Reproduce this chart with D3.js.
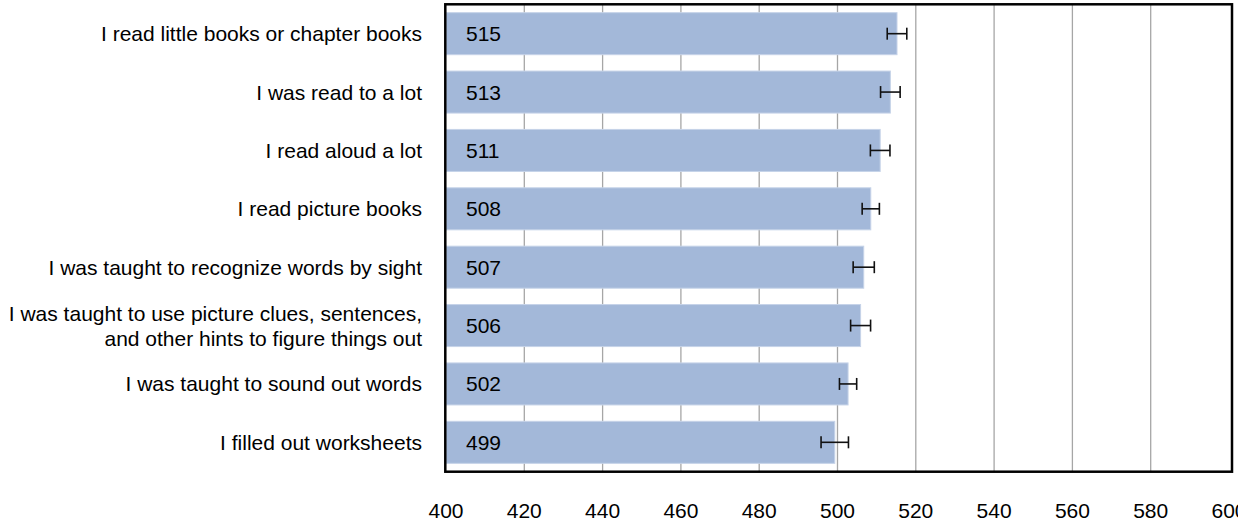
<!DOCTYPE html>
<html>
<head>
<meta charset="utf-8">
<script src="https://d3js.org/d3.v7.min.js"></script>
<style>
    body { margin: 0; background: #fff; }
    text { font-family: "Liberation Sans", Arial, sans-serif; fill: #000; }
</style>
</head>
<body>
<svg width="1238" height="525"></svg>
<script>
// chart data
var categories = [
    "I read little books or chapter books",
    "I was read to a lot",
    "I read aloud a lot",
    "I read picture books",
    "I was taught to recognize words by sight",
    "I was taught to use picture clues, sentences,|and other hints to figure things out",
    "I was taught to sound out words",
    "I filled out worksheets"
];
var scores = [515.2, 513.5, 510.9, 508.5, 506.7, 505.9, 502.7, 499.3];
var scoreLabels = ["515", "513", "511", "508", "507", "506", "502", "499"];
var errors = [2.5, 2.5, 2.5, 2.2, 2.7, 2.55, 2.2, 3.5];
var xTicks = [400, 420, 440, 460, 480, 500, 520, 540, 560, 580, 600];

var svg = d3.select("svg"),
    margin = { top: 4.5, left: 446, right: 9, bottom: 53.5 },
    width = 1229 - margin.left,
    height = 471.5 - margin.top;

var g = svg.append("g").attr("transform", "translate(" + margin.left + "," + margin.top + ")");

var x = d3.scaleLinear().domain([400, 600]).range([0, width]);
var y = d3.scaleBand().domain(d3.range(categories.length)).range([0, height]).paddingInner(0.28).paddingOuter(0.14);

// gridlines
g.selectAll(".grid")
    .data(xTicks.slice(1, -1))
    .enter().append("line")
    .attr("x1", function (d) { return x(d); })
    .attr("x2", function (d) { return x(d); })
    .attr("y1", 0)
    .attr("y2", height)
    .attr("stroke", "#a6a6a6")
    .attr("stroke-width", 1.3);

// bars
g.selectAll(".bar")
    .data(scores)
    .enter().append("rect")
    .attr("x", 0)
    .attr("y", function (d, i) { return y(i); })
    .attr("width", function (d) { return x(d); })
    .attr("height", y.bandwidth())
    .attr("fill", "#a3b8d9")
    .attr("stroke", "#c6d3e8")
    .attr("stroke-width", 1);

// error bars
var eb = g.selectAll(".err")
    .data(scores)
    .enter().append("g")
    .attr("transform", function (d, i) { return "translate(0," + (y(i) + y.bandwidth() / 2) + ")"; });

eb.append("line")
    .attr("x1", function (d, i) { return x(d - errors[i]); })
    .attr("x2", function (d, i) { return x(d + errors[i]); })
    .attr("stroke", "#111").attr("stroke-width", 1.6);
eb.append("line")
    .attr("x1", function (d, i) { return x(d - errors[i]); })
    .attr("x2", function (d, i) { return x(d - errors[i]); })
    .attr("y1", -6).attr("y2", 6)
    .attr("stroke", "#111").attr("stroke-width", 1.6);
eb.append("line")
    .attr("x1", function (d, i) { return x(d + errors[i]); })
    .attr("x2", function (d, i) { return x(d + errors[i]); })
    .attr("y1", -6).attr("y2", 6)
    .attr("stroke", "#111").attr("stroke-width", 1.6);

// value labels
g.selectAll(".val")
    .data(scoreLabels)
    .enter().append("text")
    .attr("x", 20)
    .attr("y", function (d, i) { return y(i) + y.bandwidth() / 2; })
    .attr("dy", "0.36em")
    .style("font-size", "21px")
    .text(function (d) { return d; });

// category labels
g.selectAll(".cat")
    .data(categories)
    .enter().append("text")
    .attr("text-anchor", "end")
    .attr("y", function (d, i) { return y(i) + y.bandwidth() / 2; })
    .style("font-size", "21px")
    .html(function (d) {
        var lines = d.split("|");
        var start = 0.36 - (lines.length - 1) * 0.6;
        return lines.map(function (l, k) {
            return "<tspan x='-24' dy='" + (k === 0 ? start : 1.2) + "em'>" + l + "</tspan>";
        }).join("");
    });

// x tick labels
g.selectAll(".tick")
    .data(xTicks)
    .enter().append("text")
    .attr("x", function (d) { return x(d); })
    .attr("y", 518 - margin.top)
    .attr("text-anchor", "middle")
    .style("font-size", "21px")
    .text(function (d) { return d; });

// frame
svg.append("rect")
    .attr("x", 445.3)
    .attr("y", 4.3)
    .attr("width", 1232 - 445.3)
    .attr("height", 471.7 - 4.3)
    .attr("fill", "none")
    .attr("stroke", "#000")
    .attr("stroke-width", 2.5);
</script>
</body>
</html>
